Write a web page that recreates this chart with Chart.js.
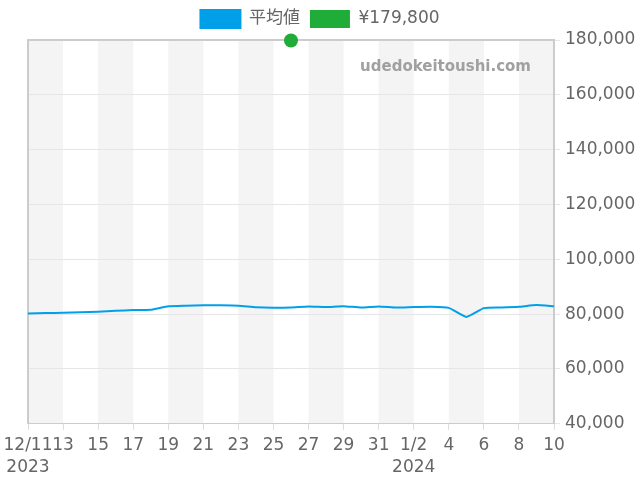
<!DOCTYPE html>
<html>
<head>
<meta charset="utf-8">
<script src="https://cdn.jsdelivr.net/npm/chart.js@4"></script>
<style>
  html, body { margin: 0; padding: 0; background: #fff; }
  #wrap { width: 640px; height: 480px; position: relative; }
</style>
</head>
<body>
<div id="wrap"><canvas id="priceChart"></canvas></div>
<script>
// daily categories 12/11/2023 - 1/10/2024
const days = ['12/11','12/12','12/13','12/14','12/15','12/16','12/17','12/18','12/19','12/20',
  '12/21','12/22','12/23','12/24','12/25','12/26','12/27','12/28','12/29','12/30','12/31',
  '1/1','1/2','1/3','1/4','1/5','1/6','1/7','1/8','1/9','1/10'];

// average price (平均値)
const avgPrice = [80200, 80400, 80500, 80700, 80900, 81200, 81500, 81600, 82900, 83100,
  83200, 83200, 83100, 82500, 82300, 82400, 82800, 82600, 82900, 82400, 82800,
  82400, 82600, 82700, 82300, 79000, 82200, 82400, 82700, 83300, 82900];

// single listed price point
const listDay = '12/26';
const listPrice = 179800;
const listLabel = '¥179,800';

// labels shown every second day
const tickLabels = [['12/11','2023'],'13','15','17','19','21','23','25','27','29','31',
  ['1/2','2024'],'4','6','8','10'];

const yTicks = [40000, 60000, 80000, 100000, 120000, 140000, 160000, 180000];

const BLUE = '#00a0e9';
const GREEN = '#20ac38';
const TXT = '#666666';
const FONT = '"DejaVu Sans", "Noto Sans CJK JP"';

// alternating grey bands behind the plot
const bandPlugin = {
    id: 'bands',
    beforeDraw(chart) {
        const { ctx, chartArea, scales } = chart;
        ctx.save();
        ctx.fillStyle = '#f4f4f4';
        for (let k = 0; k < days.length - 1; k += 4) {
            const x0 = scales.x.getPixelForValue(k);
            const x1 = scales.x.getPixelForValue(Math.min(k + 2, days.length - 1));
            ctx.fillRect(x0, chartArea.top, x1 - x0, chartArea.bottom - chartArea.top);
        }
        ctx.restore();
    }
};

const markPlugin = {
    id: 'watermark',
    beforeDatasetsDraw(chart) {
        const { ctx, chartArea } = chart;
        ctx.save();
        // frame round the plot
        ctx.strokeStyle = '#cccccc';
        ctx.lineWidth = 2;
        ctx.beginPath();
        ctx.moveTo(chartArea.left, chartArea.bottom);
        ctx.lineTo(chartArea.left, chartArea.top);
        ctx.lineTo(chartArea.right, chartArea.top);
        ctx.stroke();
        ctx.font = 'bold 15px "DejaVu Sans"';
        ctx.fillStyle = '#a0a0a0';
        ctx.textAlign = 'right';
        ctx.textBaseline = 'middle';
        ctx.fillText('udedokeitoushi.com', chartArea.right - 23, chartArea.top + 27);
        ctx.restore();
    }
};

// a little more room under the legend
const legendGap = {
    id: 'legendGap',
    beforeInit(chart) {
        const fit = chart.legend.fit;
        chart.legend.fit = function () {
            fit.bind(chart.legend)();
            this.height += 2;
        };
    }
};

const ctx = document.getElementById('priceChart').getContext('2d');
new Chart(ctx, {
    type: 'line',
    data: {
        labels: days,
        datasets: [{
            label: '平均値',
            data: avgPrice,
            borderColor: BLUE,
            backgroundColor: BLUE,
            borderWidth: 2,
            pointRadius: 0,
            tension: 0.15
        }, {
            label: listLabel,
            data: days.map(d => d === listDay ? listPrice : null),
            borderColor: GREEN,
            backgroundColor: GREEN,
            borderWidth: 0,
            showLine: false,
            pointRadius: 7,
            clip: false
        }]
    },
    options: {
        responsive: true,
        maintainAspectRatio: false,
        animation: false,
        layout: { padding: { left: 0, right: 0, top: 0, bottom: -4 } },
        plugins: {
            legend: {
                position: 'top',
                labels: {
                    boxWidth: 40,
                    boxHeight: 18,
                    padding: 10,
                    color: TXT,
                    font: { family: FONT, size: 17 }
                }
            },
            tooltip: { enabled: false }
        },
        scales: {
            x: {
                border: { color: '#cccccc', width: 1 },
                grid: { drawOnChartArea: false, color: '#dddddd', tickLength: 6 },
                afterFit: axis => { axis.paddingLeft = 28; },
                ticks: {
                    autoSkip: false,
                    maxRotation: 0,
                    padding: 5,
                    color: TXT,
                    font: { family: FONT, size: 17, lineHeight: 1.3 },
                    callback: (val, i) => i % 2 === 0 ? tickLabels[i / 2] : null
                }
            },
            y: {
                position: 'right',
                min: 40000,
                max: 180000,
                border: { color: '#cccccc', width: 2 },
                grid: { color: '#e6e6e6', tickLength: 6 },
                afterFit: axis => { axis.width = 86; },
                afterBuildTicks: axis => { axis.ticks = yTicks.map(v => ({ value: v })); },
                ticks: {
                    padding: 5,
                    color: TXT,
                    font: { family: FONT, size: 17 },
                    callback: v => v.toLocaleString('en-US')
                }
            }
        }
    },
    plugins: [bandPlugin, markPlugin, legendGap]
});
</script>
</body>
</html>
